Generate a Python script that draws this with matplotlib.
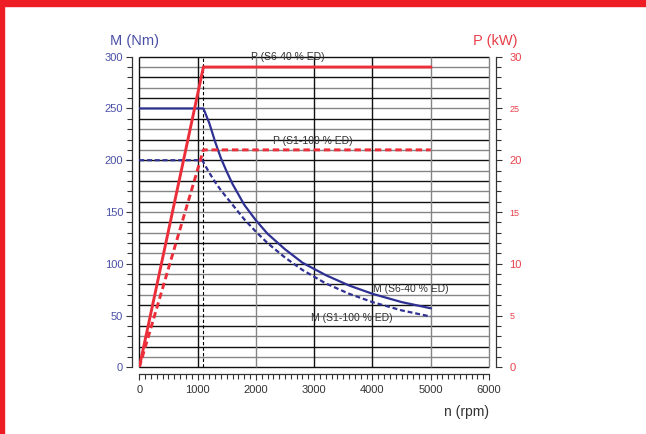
import matplotlib
matplotlib.use("Agg")
import matplotlib.pyplot as plt
from matplotlib.patches import Rectangle
import numpy as np

plt.rcParams['font.family'] = ['Liberation Sans', 'DejaVu Sans']

# torque M (Nm) against speed n (rpm)
m_s6_rpm = [0, 1100, 1200, 1300, 1400, 1500, 1600, 1800, 2000, 2200, 2500, 2800, 3200, 3600, 4000, 4500, 5000]
m_s6_nm = [250, 250, 236, 218, 202, 189, 177, 157, 142, 129, 114, 101, 89, 79, 71, 63, 57]
m_s1_rpm = [0, 1080, 1200, 1300, 1400, 1500, 1600, 1800, 2000, 2200, 2500, 2800, 3200, 3600, 4000, 4500, 5000]
m_s1_nm = [200, 200, 188, 179, 171, 164, 157, 143, 131, 120, 106, 94, 81, 71, 63, 55, 49]

# power P (kW)
p_rpm = [0, 1100, 5000]
p_s6_kw = [0, 29, 29]
p_s1_kw = [0, 21, 21]

corner_rpm = 1100
m_ticks = [0, 50, 100, 150, 200, 250, 300]
p_ticks = [0, 5, 10, 15, 20, 25, 30]
n_ticks = [0, 1000, 2000, 3000, 4000, 5000, 6000]

BLUE = '#2e3192'
BLUE_TXT = '#4a4fa6'
RED = '#ec2d3a'
RED_TXT = '#e8404a'
INK = '#333333'

fig = plt.figure(figsize=(6.46, 4.34), dpi=100)
fig.patches.append(Rectangle((0, 1 - 6 / 434), 1, 6 / 434, transform=fig.transFigure,
                             color='#ee1c25', zorder=10))
fig.patches.append(Rectangle((0, 0), 4 / 646, 1, transform=fig.transFigure,
                             color='#ee1c25', zorder=10))

ax = fig.add_axes([139.3 / 646, 66.7 / 434, 349.7 / 646, 310.6 / 434])
ax.set_xlim(0, 6000)
ax.set_ylim(0, 300)

# grid
grid_y = np.arange(0, 301, 10)
ax.hlines(grid_y, 0, 6000, colors=['#111111' if i % 2 == 0 else '#858585' for i in range(len(grid_y))],
          linewidth=1.0, zorder=0.5, clip_on=False)
grid_cols = ['#111111', '#111111', '#858585', '#111111', '#111111', '#858585', '#858585']
ax.vlines(n_ticks, 0, 300, colors=grid_cols, linewidth=1.0, zorder=0.6, clip_on=False)
ax.vlines(corner_rpm, 0, 300, colors='black', linewidth=0.8, linestyles=(0, (3, 2)), zorder=0.7)

ax.plot(m_s6_rpm, m_s6_nm, color=BLUE, lw=1.6, zorder=3)
ax.plot(m_s1_rpm, m_s1_nm, color=BLUE, lw=1.6, dashes=(2.2, 1.3), zorder=3)

for s in ['top', 'right']:
    ax.spines[s].set_visible(False)
for s in ['left', 'bottom']:
    ax.spines[s].set_position(('outward', 5))
    ax.spines[s].set_color(INK)
    ax.spines[s].set_linewidth(0.9)

ax.set_yticks(m_ticks)
ax.set_yticks(np.arange(0, 301, 10), minor=True)
ax.set_xticks(n_ticks)
ax.set_xticks(np.arange(0, 6001, 100), minor=True)
ax.tick_params(which='major', length=4.6, width=0.8, color=INK, labelsize=8, pad=2)
ax.tick_params(which='minor', length=3.5, width=0.8, color=INK)
ax.tick_params(axis='y', labelcolor=BLUE_TXT)
ax.tick_params(axis='x', labelcolor=INK, pad=3)

ax2 = ax.twinx()
ax2.set_ylim(0, 30)
ax2.plot(p_rpm, p_s6_kw, color=RED, lw=2.1, zorder=3, solid_joinstyle='miter')
ax2.plot(p_rpm, p_s1_kw, color=RED, lw=2.1, dashes=(2.2, 1.3), zorder=3)
for s in ['top', 'left', 'bottom']:
    ax2.spines[s].set_visible(False)
ax2.spines['right'].set_position(('outward', 5))
ax2.spines['right'].set_color(INK)
ax2.spines['right'].set_linewidth(0.9)
ax2.set_yticks(p_ticks)
ax2.set_yticks(np.arange(0, 31, 1), minor=True)
ax2.tick_params(which='major', length=4.6, width=0.8, color=INK, labelsize=8, labelcolor=RED_TXT, pad=5)
ax2.tick_params(which='minor', length=3.5, width=0.8, color=INK)
for v, lab in zip(p_ticks, ax2.get_yticklabels()):
    if v % 10:
        lab.set_fontsize(6.5)

# curve labels
lab_kw = dict(fontsize=7.5, color=INK, ha='center', va='center', zorder=4)
ax.text(2555, 300, 'P (S6-40 % ED)', **lab_kw)
ax.text(2985, 219, 'P (S1-100 % ED)', **lab_kw)
ax.text(4660, 76, 'M (S6-40 % ED)', **lab_kw)
ax.text(3646, 48, 'M (S1-100 % ED)', **lab_kw)

fig.text(134 / 646, 1 - 41 / 434, 'M (Nm)', fontsize=10.5, color=BLUE_TXT, ha='center', va='center')
fig.text(495 / 646, 1 - 41 / 434, 'P (kW)', fontsize=10.5, color=RED_TXT, ha='center', va='center')
fig.text(466 / 646, 1 - 412 / 434, 'n (rpm)', fontsize=10, color=INK, ha='center', va='center')

fig.savefig('out.png', dpi=100)
